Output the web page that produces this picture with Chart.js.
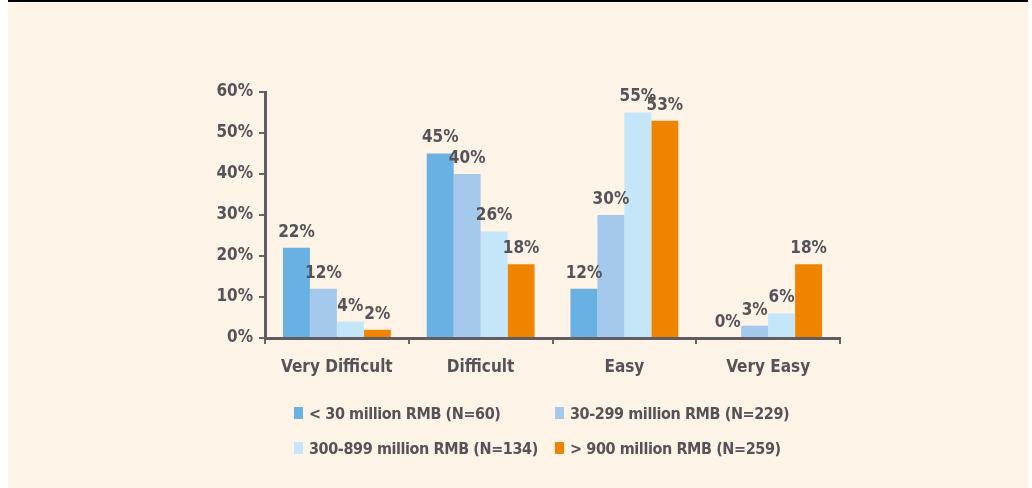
<!DOCTYPE html>
<html lang="en">
<head>
  <meta charset="UTF-8">
  <title>Ease of access by company size</title>
  <style>
    html, body { margin: 0; padding: 0; background: #fff; }
    #panel { position: absolute; left: 8px; top: 0; width: 1020px; height: 488px;
             background: #fdf3e7; border-top: 2px solid #000; box-sizing: border-box; }
    #wrap { position: absolute; left: 0; top: 0; width: 1032px; height: 488px; }
    .legend { position: absolute; left: 294px; top: 402px; display: grid;
              grid-template-columns: 261px 260px; row-gap: 13px;
              font: bold 16px "DejaVu Sans Condensed", Arial, sans-serif;
              letter-spacing: -0.4px; color: #555358; }
    .legend div { display: flex; align-items: center; height: 22px; white-space: nowrap; }
    .legend span.box { display: inline-block; flex-shrink: 0; width: 9px; height: 12px; margin-right: 6px; }
  </style>
  <script src="https://cdn.jsdelivr.net/npm/chart.js"></script>
</head>
<body>
  <div id="panel"></div>
  <div id="wrap"><canvas id="chart" width="1032" height="488"></canvas></div>
  <div class="legend" id="legend"></div>

  <script>
    const categories = ['Very Difficult', 'Difficult', 'Easy', 'Very Easy'];
    const seriesNames = ['< 30 million RMB (N=60)', '30-299 million RMB (N=229)',
                         '300-899 million RMB (N=134)', '> 900 million RMB (N=259)'];
    const under30 = [22, 45, 12, 0];
    const from30to299 = [12, 40, 30, 3];
    const from300to899 = [4, 26, 55, 6];
    const over900 = [2, 18, 53, 18];
    const colors = ['#69b1e3', '#a4c9ec', '#c5e6f9', '#ef8400'];
    const yTicks = [0, 10, 20, 30, 40, 50, 60];

    const textColor = '#555358';
    const fontFamily = '"DejaVu Sans Condensed", Arial, sans-serif';

    // value labels above each bar
    const valueLabels = {
      id: 'valueLabels',
      afterDatasetsDraw(chart) {
        const ctx = chart.ctx;
        ctx.save();
        ctx.font = 'bold 17px ' + fontFamily;
        ctx.fillStyle = textColor;
        ctx.textAlign = 'center';
        ctx.textBaseline = 'bottom';
        chart.data.datasets.forEach((ds, i) => {
          chart.getDatasetMeta(i).data.forEach((bar, j) => {
            ctx.fillText(ds.data[j] + '%', bar.x, bar.y - 7);
          });
        });
        ctx.restore();
      }
    };

    const datasets = [under30, from30to299, from300to899, over900].map((d, i) => ({
      label: seriesNames[i],
      data: d,
      backgroundColor: colors[i],
      borderWidth: 0
    }));

    new Chart(document.getElementById('chart'), {
      type: 'bar',
      data: { labels: categories, datasets: datasets },
      options: {
        responsive: false,
        animation: false,
        layout: { padding: { left: 205, right: 192, top: 92, bottom: 100 } },
        datasets: { bar: { categoryPercentage: 0.75, barPercentage: 1 } },
        plugins: {
          legend: { display: false },
          tooltip: { enabled: false }
        },
        scales: {
          x: {
            afterFit: s => { s.height = 50; },
            grid: { display: true, drawOnChartArea: false, drawTicks: true, tickLength: 6,
                    offset: true, color: '#666', lineWidth: 2 },
            border: { display: true, color: '#5f5d61', width: 3 },
            ticks: { color: textColor, padding: 13, font: { family: fontFamily, size: 17, weight: 'bold' } }
          },
          y: {
            min: 0, max: 60,
            afterFit: s => { s.width = 60; },
            afterBuildTicks: s => { s.ticks = yTicks.map(v => ({ value: v })); },
            grid: { display: true, drawOnChartArea: false, drawTicks: true, tickLength: 6,
                    color: '#666', lineWidth: 2 },
            border: { display: true, color: '#5f5d61', width: 3 },
            ticks: { color: textColor, padding: 6, callback: v => v + '%',
                     font: { family: fontFamily, size: 17, weight: 'bold' } }
          }
        }
      },
      plugins: [valueLabels]
    });

    const legend = document.getElementById('legend');
    seriesNames.forEach((name, i) => {
      const item = document.createElement('div');
      item.innerHTML = '<span class="box" style="background:' + colors[i] + '"></span>';
      item.appendChild(document.createTextNode(name));
      legend.appendChild(item);
    });
  </script>
</body>
</html>
